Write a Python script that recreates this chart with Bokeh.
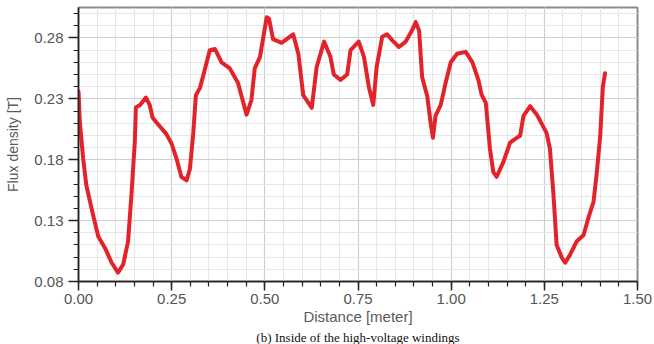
from bokeh.plotting import figure
from bokeh.models import FixedTicker, PrintfTickFormatter, Range1d, Title
from bokeh.embed import file_html
from bokeh.resources import INLINE
import numpy as np

# Flux density along the path inside the high-voltage windings
distance_m = [
    0.000, 0.0035, 0.0125, 0.021, 0.035, 0.053, 0.071, 0.089, 0.106, 0.120,
    0.133, 0.142, 0.151, 0.154, 0.165, 0.181, 0.191, 0.199, 0.214, 0.236,
    0.250, 0.263, 0.276, 0.290, 0.299, 0.308, 0.315, 0.326, 0.339, 0.3525,
    0.366, 0.384, 0.406, 0.428, 0.451, 0.464, 0.473, 0.487, 0.505, 0.511,
    0.522, 0.545, 0.576, 0.590, 0.603, 0.626, 0.639, 0.659, 0.676, 0.685,
    0.703, 0.721, 0.730, 0.752, 0.766, 0.779, 0.791, 0.800, 0.815, 0.828,
    0.842, 0.860, 0.878, 0.893, 0.905, 0.914, 0.922, 0.936, 0.945, 0.951,
    0.958, 0.972, 0.985, 0.999, 1.016, 1.039, 1.057, 1.073, 1.082, 1.093,
    1.104, 1.113, 1.122, 1.140, 1.158, 1.176, 1.185, 1.194, 1.212, 1.230,
    1.256, 1.265, 1.274, 1.283, 1.297, 1.306, 1.319, 1.337, 1.355, 1.368,
    1.382, 1.391, 1.400, 1.407, 1.413,
]
flux_t = [
    0.236, 0.211, 0.181, 0.159, 0.140, 0.117, 0.1076, 0.0954, 0.0873, 0.094,
    0.113, 0.151, 0.194, 0.223, 0.225, 0.231, 0.225, 0.2145, 0.209, 0.201,
    0.193, 0.181, 0.166, 0.163, 0.1725, 0.202, 0.233, 0.239, 0.254, 0.270,
    0.271, 0.260, 0.255, 0.243, 0.217, 0.229, 0.255, 0.2645, 0.297, 0.296,
    0.279, 0.276, 0.283, 0.267, 0.233, 0.2226, 0.256, 0.277, 0.2645, 0.250,
    0.2456, 0.250, 0.270, 0.277, 0.2645, 0.240, 0.225, 0.256, 0.281, 0.283,
    0.278, 0.2726, 0.277, 0.285, 0.293, 0.286, 0.248, 0.232, 0.210, 0.198,
    0.216, 0.225, 0.243, 0.260, 0.267, 0.2686, 0.260, 0.2456, 0.233, 0.2267,
    0.189, 0.170, 0.166, 0.178, 0.194, 0.198, 0.1996, 0.216, 0.224, 0.217,
    0.202, 0.189, 0.1536, 0.110, 0.0995, 0.0954, 0.102, 0.113, 0.118, 0.132,
    0.1455, 0.170, 0.1996, 0.240, 0.251,
]

x_ticks = [0.00, 0.25, 0.50, 0.75, 1.00, 1.25, 1.50]
y_ticks = [0.08, 0.13, 0.18, 0.23, 0.28]
x_minor = [round(v, 2) for v in np.arange(0.0, 1.5001, 0.05)]
y_minor = [round(v, 2) for v in np.arange(0.08, 0.3051, 0.01)]

caption = "(b) Inside of the high-voltage windings"

p = figure(width=654, height=344, output_backend="svg", toolbar_location=None,
           x_range=Range1d(0.0, 1.5), y_range=Range1d(0.08, 0.305),
           min_border_left=78, min_border_right=17, min_border_top=7,
           min_border_bottom=0)

p.background_fill_color = "white"
p.border_fill_color = "white"
p.outline_line_color = "#8c8c8c"
p.outline_line_width = 2

label_font = "Liberation Sans"
for ax, ticks, minor in ((p.xaxis[0], x_ticks, x_minor), (p.yaxis[0], y_ticks, y_minor)):
    ax.ticker = FixedTicker(ticks=ticks, minor_ticks=minor)
    ax.formatter = PrintfTickFormatter(format="%.2f")
    ax.axis_line_color = "#222222"
    ax.axis_line_width = 1.5
    ax.major_tick_line_color = "#222222"
    ax.minor_tick_line_color = "#222222"
    ax.major_tick_line_width = 1.5
    ax.minor_tick_line_width = 1.2
    ax.major_tick_in = 0
    ax.minor_tick_in = 0
    ax.major_tick_out = 9
    ax.minor_tick_out = 5
    ax.major_label_text_font = label_font
    ax.major_label_text_font_size = "15px"
    ax.major_label_text_color = "#555555"
    ax.axis_label_text_font = label_font
    ax.axis_label_text_font_style = "normal"
    ax.axis_label_text_color = "#5a5a5a"

p.yaxis.major_tick_out = 10
p.xaxis.major_label_standoff = 3
p.yaxis.major_label_standoff = 5
p.xaxis.axis_label = "Distance [meter]"
p.yaxis.axis_label = "Flux density [T]"
p.xaxis.axis_label_text_font_size = "15px"
p.yaxis.axis_label_text_font_size = "14px"
p.xaxis.axis_label_standoff = 1
p.yaxis.axis_label_standoff = 10

for g in (p.xgrid[0], p.ygrid[0]):
    g.grid_line_color = "#cfcfcf"
    g.grid_line_width = 1.2
    g.minor_grid_line_color = "#e6e6e6"
    g.minor_grid_line_width = 1

p.line(distance_m, flux_t, line_color="#e3232a", line_width=4, line_join="round",
       line_cap="round")

# figure caption under the axis title
p.add_layout(Title(text=caption, align="center", text_font="Liberation Serif",
                   text_font_size="13px", text_font_style="normal",
                   text_color="#111111", standoff=0, offset=0), "below")

open("out.html", "w").write(file_html(p, INLINE))
